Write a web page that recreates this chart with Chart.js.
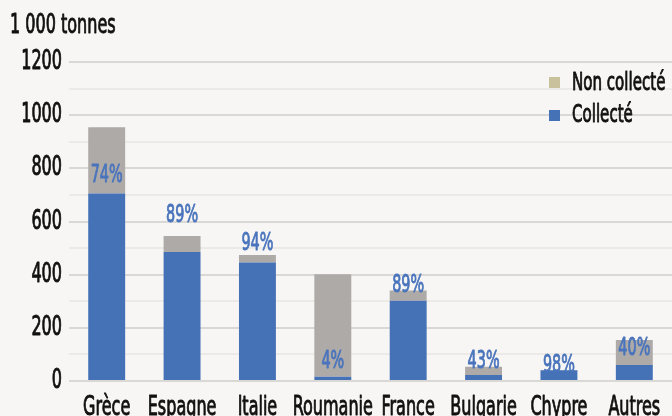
<!DOCTYPE html>
<html>
<head>
<meta charset="utf-8">
<script src="https://cdn.jsdelivr.net/npm/chart.js@4"></script>
<style>
  html, body { margin: 0; padding: 0; background: #f7f6f4; overflow: hidden; }
  #wrap { width: 672px; height: 426px; }
</style>
</head>
<body>
<div id="wrap"><canvas id="chart"></canvas></div>
<script>
const categories = ["Grèce", "Espagne", "Italie", "Roumanie", "France", "Bulgarie", "Chypre", "Autres"];
const collecte = [705, 485, 446, 16, 302, 23, 40, 60];
const nonCollecte = [250, 60, 28, 386, 38, 31, 1, 94];
const pctLabels = ["74%", "89%", "94%", "4%", "89%", "43%", "98%", "40%"];
const unitLabel = "1 000 tonnes";

const FONT = '"DejaVu Sans Condensed", "DejaVu Sans", sans-serif';
const BLUE = "#4571b6";
const GREY = "#adaaa8";
const INK = "#111111";

// the original uses a tall condensed medium face: squeeze the text and thicken it a bit
const narrowText = function (ctx, text, x, y, size, align, color, sx) {
  ctx.save();
  ctx.font = size + "px " + FONT;
  ctx.fillStyle = color;
  ctx.strokeStyle = color;
  ctx.lineWidth = 0.9;
  ctx.lineJoin = "round";
  ctx.textAlign = align;
  ctx.textBaseline = "alphabetic";
  ctx.translate(x, y);
  ctx.scale(sx, 1);
  ctx.fillText(text, 0, 0);
  ctx.strokeText(text, 0, 0);
  ctx.restore();
};

const overlay = {
  id: "overlay",
  afterDraw(chart, args, opts) {
    const ctx = chart.ctx;
    const xs = chart.scales.x;
    const ys = chart.scales.y;

    ys.ticks.forEach((t) => {
      if (t.value % 200 === 0) {
        narrowText(ctx, String(t.value), 62, ys.getPixelForValue(t.value) + 7, 27, "right", INK, 0.66);
      }
    });
    categories.forEach((c, i) => {
      narrowText(ctx, c, xs.getPixelForValue(i), 415, 27, "center", INK, 0.66);
    });

    const meta = chart.getDatasetMeta(1);
    meta.data.forEach((bar, i) => {
      narrowText(ctx, pctLabels[i], bar.x, bar.y + opts.shift[i], 25, "center", "#4a74bc", 0.64);
    });

    narrowText(ctx, unitLabel, 10, 33, 27, "left", INK, 0.66);

    ctx.save();
    ctx.fillStyle = "#c9c09c";
    ctx.fillRect(549, 77, 11, 11);
    ctx.fillStyle = BLUE;
    ctx.fillRect(549, 110, 11, 11);
    ctx.restore();
    narrowText(ctx, "Non collecté", 572, 90, 25, "left", INK, 0.67);
    narrowText(ctx, "Collecté", 572, 122, 25, "left", INK, 0.67);
  },
};

new Chart(document.getElementById("chart"), {
  type: "bar",
  data: {
    labels: categories,
    datasets: [
      { label: "Collecté", data: collecte, backgroundColor: BLUE },
      { label: "Non collecté", data: nonCollecte, backgroundColor: GREY },
    ],
  },
  plugins: [overlay],
  options: {
    responsive: true,
    maintainAspectRatio: false,
    animation: false,
    layout: { padding: { top: 62, left: 0, right: 0, bottom: 0 } },
    datasets: { bar: { categoryPercentage: 0.49, barPercentage: 1 } },
    plugins: {
      legend: { display: false },
      tooltip: { enabled: false },
      overlay: { shift: [55, -14, -5, 94, 1, 1, 2, 15] },
    },
    scales: {
      x: {
        stacked: true,
        grid: { display: false },
        border: { display: false },
        ticks: { display: false },
        afterFit: (s) => { s.height = 45; },
      },
      y: {
        stacked: true,
        min: 0,
        max: 1200,
        border: { display: false },
        grid: {
          drawTicks: false,
          lineWidth: 2,
          color: (c) => (c.tick && c.tick.value % 200 === 0 ? "#dad8d5" : "#eceae7"),
        },
        ticks: { display: false, stepSize: 100, autoSkip: false },
        afterFit: (s) => { s.width = 69; },
      },
    },
  },
});
</script>
</body>
</html>
